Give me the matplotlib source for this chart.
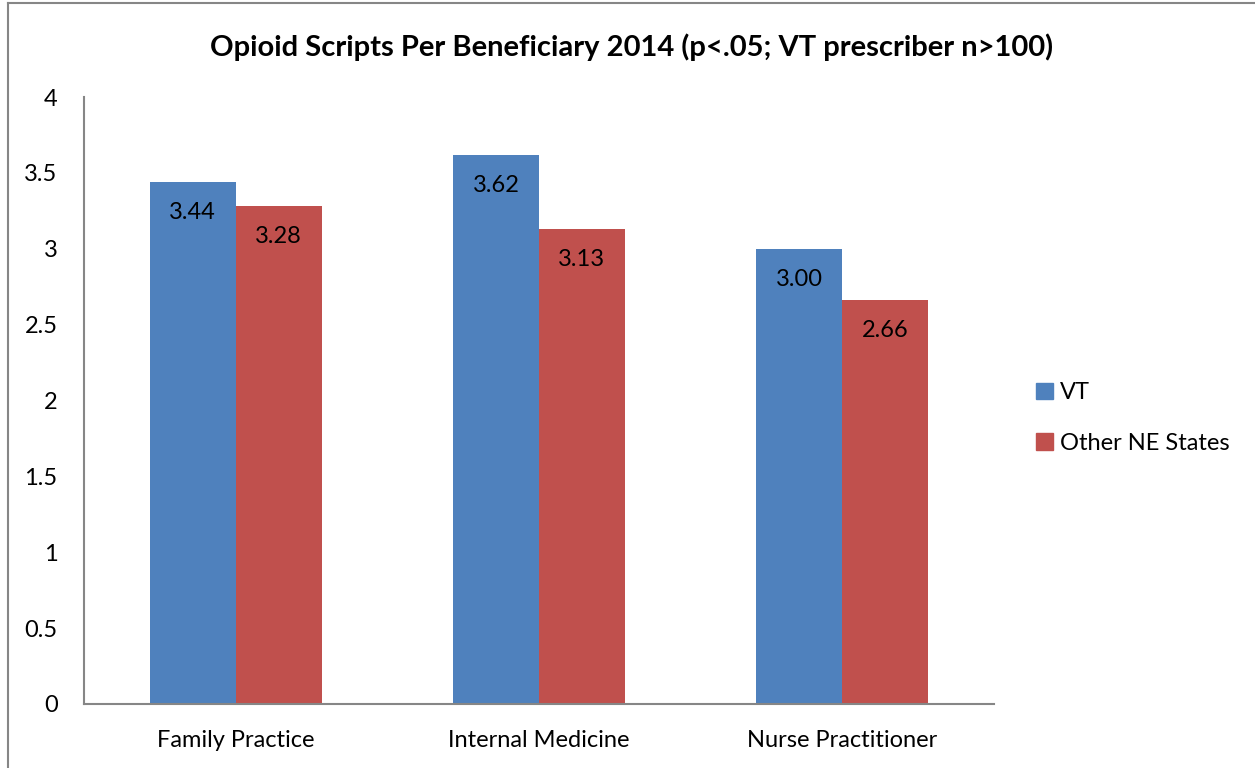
import numpy as np
import matplotlib
matplotlib.use('Agg')
import matplotlib.pyplot as plt
from matplotlib.patches import Patch

categories = ['Family Practice', 'Internal Medicine', 'Nurse Practitioner']
vt = [3.44, 3.62, 3.00]
other_ne = [3.28, 3.13, 2.66]
series_names = ['VT', 'Other NE States']
yticks = [0, 0.5, 1, 1.5, 2, 2.5, 3, 3.5, 4]

blue = '#4F81BD'
red = '#C0504D'
grey = '#868686'

plt.rcParams['font.family'] = ['Lato', 'DejaVu Sans']

fig = plt.figure(figsize=(12.55, 7.68), dpi=100)
ax = fig.add_axes([84/1255, 64/768, 910/1255, 607/768])

x = np.arange(len(categories))
w = 0.283
b1 = ax.bar(x - w/2, vt, w, color=blue, label=series_names[0])
b2 = ax.bar(x + w/2, other_ne, w, color=red, label=series_names[1])

for bars, vals in ((b1, vt), (b2, other_ne)):
    for r, v in zip(bars, vals):
        ax.annotate('%.2f' % v, (r.get_x() + r.get_width()/2, v),
                    xytext=(0, -22), textcoords='offset points',
                    ha='center', va='center', fontsize=17)

ax.set_xlim(-0.5, 2.5)
ax.set_ylim(0, 4)
ax.set_yticks(yticks)
ax.set_yticklabels([('%g' % t) for t in yticks])
ax.set_xticks(x)
ax.set_xticklabels(categories)
ax.tick_params(axis='y', length=0, pad=19, labelsize=17)
ax.tick_params(axis='x', length=0, pad=19, labelsize=17)
for s in ('top', 'right'):
    ax.spines[s].set_visible(False)
for s in ('left', 'bottom'):
    ax.spines[s].set_color(grey)
    ax.spines[s].set_linewidth(1.5)

fig.text(632/1255, 1 - 47/768, 'Opioid Scripts Per Beneficiary 2014 (p<.05; VT prescriber n>100)',
         ha='center', va='center', fontsize=21, fontweight='bold')

handles = [Patch(color=blue), Patch(color=red)]
fig.legend(handles, series_names, loc='center left', bbox_to_anchor=(1036/1255, 1 - 418/768),
           frameon=False, fontsize=17, handlelength=0.7, handleheight=0.7,
           handletextpad=0.3, labelspacing=1.25, borderpad=0, borderaxespad=0)

# chart border (left and top edges visible)
fig.add_artist(plt.Line2D([8/1255, 8/1255], [0, 1 - 3/768], color=grey, lw=1.5))
fig.add_artist(plt.Line2D([8/1255, 1], [1 - 3/768, 1 - 3/768], color=grey, lw=1.5))

fig.savefig('out.png', dpi=100)
